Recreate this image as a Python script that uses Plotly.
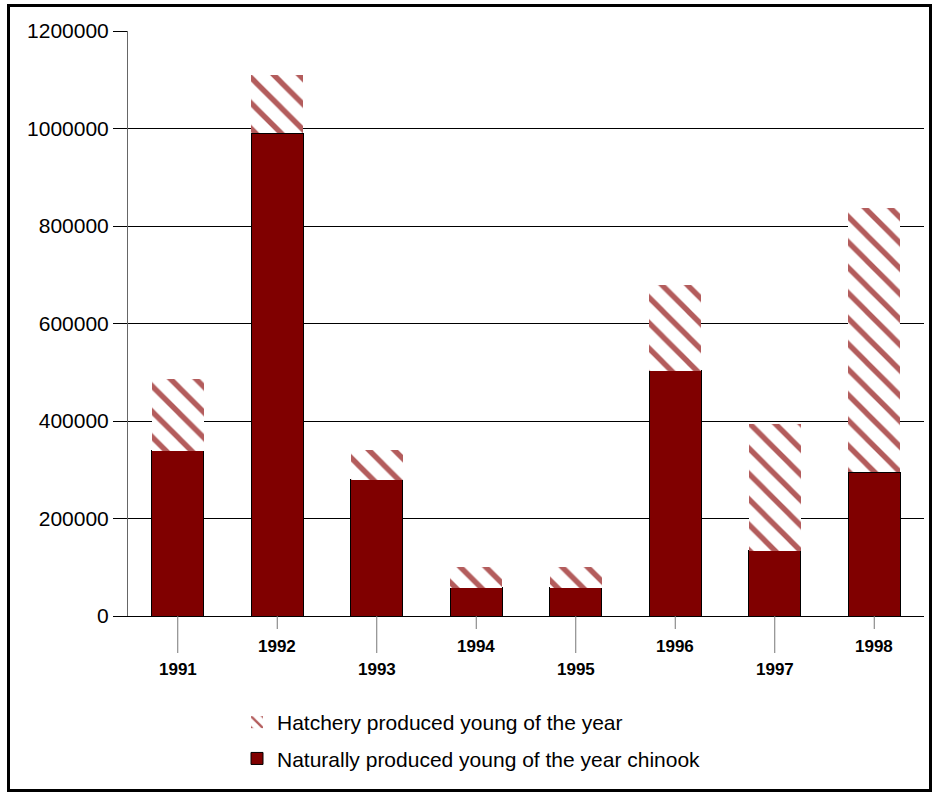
import plotly.graph_objects as go

years = ["1991", "1992", "1993", "1994", "1995", "1996", "1997", "1998"]
natural = [339000, 990000, 279000, 58000, 58000, 503000, 134000, 295000]
hatchery = [148000, 120000, 61000, 42000, 42000, 177000, 260000, 541000]
y_ticks = [0, 200000, 400000, 600000, 800000, 1000000, 1200000]

W, H = 932, 793
L, R, T, B = 128, 8, 31, 177
PW, PH = W - L - R, H - T - B

def px_x(px):
    return (px - L) / PW

def px_y(py):
    return (H - B - py) / PH

FONT = "Liberation Sans, Arial, sans-serif"

fig = go.Figure()
fig.add_trace(go.Bar(
    x=years, y=natural, name="Naturally produced young of the year chinook",
    marker=dict(color="#800000", line=dict(color="black", width=1)),
    legendgroup="b", legendrank=2,
))
fig.add_trace(go.Bar(
    x=years, y=hatchery, name="Hatchery produced young of the year",
    marker=dict(color="white", line=dict(width=0),
                pattern=dict(shape="\\", fgcolor="#b35c5c", bgcolor="white",
                             size=18, solidity=0.3, fillmode="replace")),
    legendgroup="a", legendrank=1,
))

shapes = []
annotations = []
for i, yr in enumerate(years):
    long_tick = (i % 2 == 0)
    shapes.append(dict(type="line", xref="x", yref="paper", x0=i, x1=i,
                       y0=0, y1=px_y(616 + (37 if long_tick else 13)),
                       line=dict(color="#777777", width=1)))
    annotations.append(dict(x=i, xref="x", y=0, yref="paper", yanchor="middle",
                            yshift=-53 if long_tick else -30, text=f"<b>{yr}</b>",
                            showarrow=False,
                            font=dict(family=FONT, size=17, color="black")))

# outer border
shapes.append(dict(type="rect", xref="paper", yref="paper",
                   x0=px_x(8.5), x1=px_x(930.5), y0=px_y(790.5), y1=px_y(5.5),
                   line=dict(color="black", width=3), fillcolor="rgba(0,0,0,0)",
                   layer="above"))

fig.update_layout(
    width=W, height=H,
    margin=dict(l=L, r=R, t=T, b=B),
    paper_bgcolor="white", plot_bgcolor="white",
    barmode="stack", bargap=0.48,
    font=dict(family=FONT, color="black"),
    showlegend=True,
    legend=dict(x=px_x(237), xanchor="left", y=px_y(702), yanchor="top",
                traceorder="grouped", tracegroupgap=6,
                font=dict(family=FONT, size=21, color="black"),
                bgcolor="rgba(0,0,0,0)"),
    xaxis=dict(type="category", range=[-0.5, 7.5], showticklabels=False, ticks="",
               showline=True, linecolor="black", linewidth=1, showgrid=False,
               zeroline=False),
    yaxis=dict(range=[0, 1200000], tickvals=y_ticks, ticktext=[str(v) for v in y_ticks],
               ticks="outside", ticklen=14, tickcolor="black",
               showline=True, linecolor="#666666", linewidth=1,
               showgrid=True, gridcolor="black", gridwidth=1, zeroline=False,
               tickfont=dict(family=FONT, size=21, color="black")),
    shapes=shapes, annotations=annotations,
)

fig.write_html("out.html", config={"displayModeBar": False},
               post_script="document.body.style.margin='0';")
